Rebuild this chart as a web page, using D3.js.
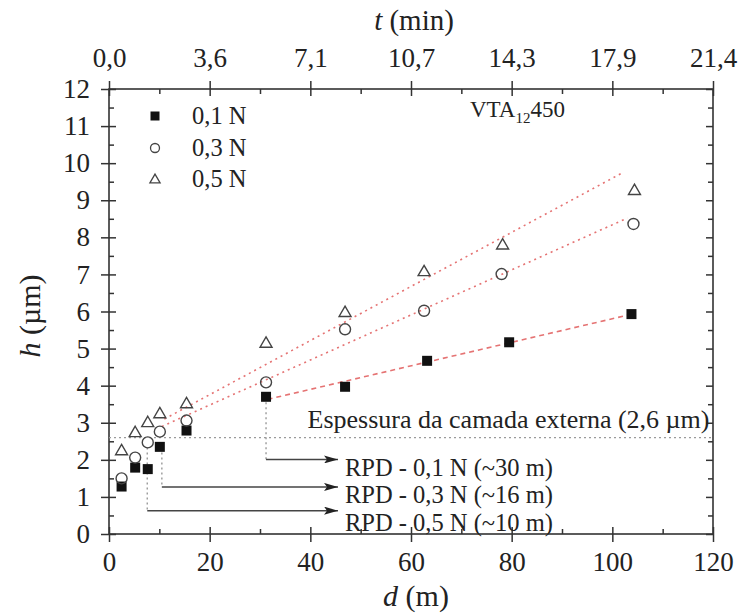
<!DOCTYPE html>
<html>
<head>
<meta charset="utf-8">
<script src="https://cdn.jsdelivr.net/npm/d3@7"></script>
<style>
  html, body { margin: 0; padding: 0; background: #fff; }
  svg { display: block; }
  text { font-family: "Liberation Serif", "Times New Roman", serif; fill: #222; }
</style>
</head>
<body>
<svg id="chart" width="749" height="615"></svg>
<script>
// Wear depth h versus sliding distance d for three normal loads
const seriesNames = ["0,1 N", "0,3 N", "0,5 N"];
const d01 = [2.5, 5.2, 7.7, 10.1, 15.4, 31.2, 46.9, 63.2, 79.5, 103.8];
const h01 = [1.28, 1.79, 1.75, 2.35, 2.79, 3.70, 3.97, 4.67, 5.17, 5.93];
const d03 = [2.5, 5.2, 7.7, 10.1, 15.4, 31.2, 46.9, 62.6, 78.0, 104.2];
const h03 = [1.50, 2.06, 2.47, 2.76, 3.06, 4.09, 5.52, 6.02, 7.01, 8.36];
const d05 = [2.5, 5.2, 7.7, 10.1, 15.4, 31.2, 46.9, 62.6, 78.2, 104.4];
const h05 = [2.27, 2.76, 3.03, 3.27, 3.54, 5.17, 6.00, 7.10, 7.82, 9.29];

// Linear trend segments (start, end)
const fitD01 = [31.5, 103.0], fitH01 = [3.63, 5.90];
const fitD03 = [10.5, 103.0], fitH03 = [2.90, 8.52];
const fitD05 = [11.0, 102.0], fitH05 = [3.10, 9.74];

// Outer layer thickness
const layerH = 2.6;
// Critical distances: vertical drop start (d, h) and arrow level h
const rpdLabels = ["RPD - 0,1 N (~30 m)", "RPD - 0,3 N (~16 m)", "RPD - 0,5 N (~10 m)"];
const rpdD = [31.2, 10.5, 7.6];
const rpdTopH = [3.55, 2.2, 2.33];
const rpdArrowH = [2.01, 1.27, 0.63];
const rpdArrowEndD = [45.5, 45.5, 45.5];

// Axes
const dTicks = [0, 20, 40, 60, 80, 100, 120];
const tLabels = ["0,0", "3,6", "7,1", "10,7", "14,3", "17,9", "21,4"];
const hTicks = [0, 1, 2, 3, 4, 5, 6, 7, 8, 9, 10, 11, 12];

const svg = d3.select("#chart");
const plotLeft = 109, plotRight = 713, plotTop = 89, plotBottom = 534;
const x = d3.scaleLinear().domain([0, 120]).range([plotLeft, plotRight]);
const y = d3.scaleLinear().domain([0, 12]).range([plotBottom, plotTop]);

const axisColor = "#333";
const serif = '"Liberation Serif", "Times New Roman", serif';
const fontSize = 27;

// Minor tick positions
const dMinor = d3.range(10, 120, 20);
const hMinor = d3.range(0.5, 12, 1);

function styleAxis(g) {
  g.select(".domain").remove();
  g.selectAll(".tick line").attr("stroke", axisColor).attr("stroke-width", 1.5);
  g.selectAll(".tick text").attr("font-size", fontSize)
    .attr("font-family", serif).attr("fill", "#222");
}

// Frame
svg.append("rect").attr("x", plotLeft).attr("y", plotTop)
  .attr("width", plotRight - plotLeft).attr("height", plotBottom - plotTop)
  .attr("fill", "none").attr("stroke", axisColor).attr("stroke-width", 1.6);

// Bottom axis (major ticks crossing the frame)
const gB = svg.append("g").attr("transform", `translate(0,${plotBottom})`)
  .call(d3.axisBottom(x).tickValues(dTicks).tickSize(8).tickPadding(10).tickFormat(d3.format("d")));
styleAxis(gB);
gB.selectAll(".tick line").attr("y1", -7);
svg.append("g").attr("transform", `translate(0,${plotBottom})`)
  .call(d3.axisTop(x).tickValues(dMinor).tickSize(5).tickFormat(""))
  .call(styleAxis);

// Top axis with time labels
const gT = svg.append("g").attr("transform", `translate(0,${plotTop})`)
  .call(d3.axisTop(x).tickValues(dTicks).tickSize(8).tickPadding(14).tickFormat((d, i) => tLabels[i]));
styleAxis(gT);
gT.selectAll(".tick line").attr("y1", 7);
svg.append("g").attr("transform", `translate(0,${plotTop})`)
  .call(d3.axisBottom(x).tickValues(dMinor).tickSize(5).tickFormat(""))
  .call(styleAxis);

// Left axis
const gL = svg.append("g").attr("transform", `translate(${plotLeft},0)`)
  .call(d3.axisLeft(y).tickValues(hTicks).tickSize(8).tickPadding(11).tickFormat(d3.format("d")));
styleAxis(gL);
gL.selectAll(".tick line").attr("x1", 7);
svg.append("g").attr("transform", `translate(${plotLeft},0)`)
  .call(d3.axisRight(y).tickValues(hMinor).tickSize(5).tickFormat(""))
  .call(styleAxis);

// Right axis (inward ticks only)
svg.append("g").attr("transform", `translate(${plotRight},0)`)
  .call(d3.axisLeft(y).tickValues(hTicks).tickSize(7).tickFormat(""))
  .call(styleAxis);
svg.append("g").attr("transform", `translate(${plotRight},0)`)
  .call(d3.axisLeft(y).tickValues(hMinor).tickSize(5).tickFormat(""))
  .call(styleAxis);

// Axis titles
const tt = svg.append("text").attr("x", 414).attr("y", 30).attr("text-anchor", "middle").attr("font-size", 29);
tt.append("tspan").attr("font-style", "italic").text("t");
tt.append("tspan").text(" (min)");

const dt = svg.append("text").attr("x", 416).attr("y", 606).attr("text-anchor", "middle").attr("font-size", 30);
dt.append("tspan").attr("font-style", "italic").text("d");
dt.append("tspan").text(" (m)");

const ht = svg.append("text").attr("transform", "translate(40,316) rotate(-90)")
  .attr("text-anchor", "middle").attr("font-size", 30);
ht.append("tspan").attr("font-style", "italic").text("h");
ht.append("tspan").text(" (µm)");

// Outer layer thickness line
svg.append("line")
  .attr("x1", x(0)).attr("x2", x(120)).attr("y1", y(layerH)).attr("y2", y(layerH))
  .attr("stroke", "#9a9a9a").attr("stroke-width", 1.4).attr("stroke-dasharray", "2,3");
svg.append("text").attr("x", x(119.3)).attr("y", y(layerH) - 10)
  .attr("text-anchor", "end").attr("font-size", 26)
  .text("Espessura da camada externa (2,6 µm)");

// Trend lines
const fitColor = "#e57373";
const fits = [
  { d: fitD01, h: fitH01, dash: "5,4" },
  { d: fitD03, h: fitH03, dash: "2,4" },
  { d: fitD05, h: fitH05, dash: "2,4" }
];
const fitLine = d3.line().x(p => x(p[0])).y(p => y(p[1]));
fits.forEach(f => {
  svg.append("path").attr("d", fitLine(d3.zip(f.d, f.h)))
    .attr("fill", "none").attr("stroke", fitColor).attr("stroke-width", 1.6)
    .attr("stroke-dasharray", f.dash);
});

// RPD markers: dotted drop, arrow and label
const defs = svg.append("defs");
defs.append("marker").attr("id", "arrowhead").attr("viewBox", "0 0 14 8")
  .attr("refX", 14).attr("refY", 4).attr("markerWidth", 14).attr("markerHeight", 8)
  .attr("markerUnits", "userSpaceOnUse").attr("orient", "auto")
  .append("path").attr("d", "M0,0 L14,4 L0,8 L3,4 Z").attr("fill", "#222");

const rpdLabelDy = [16.5, 16.5, 20];
rpdD.forEach((d, i) => {
  svg.append("line")
    .attr("x1", x(d)).attr("x2", x(d)).attr("y1", y(rpdTopH[i])).attr("y2", y(rpdArrowH[i]))
    .attr("stroke", "#9a9a9a").attr("stroke-width", 1.4).attr("stroke-dasharray", "2,3");
  svg.append("line")
    .attr("x1", x(d)).attr("x2", x(rpdArrowEndD[i])).attr("y1", y(rpdArrowH[i])).attr("y2", y(rpdArrowH[i]))
    .attr("stroke", "#444").attr("stroke-width", 1.5).attr("marker-end", "url(#arrowhead)");
  svg.append("text").attr("x", x(rpdArrowEndD[i]) + 7).attr("y", y(rpdArrowH[i]) + rpdLabelDy[i])
    .attr("font-size", 24.5).text(rpdLabels[i]);
});

// Data markers
const sq = 10, cr = 5.5;
const triPath = d3.symbol().type(d3.symbolTriangle).size(62);

d3.zip(d01, h01).forEach(p => {
  svg.append("rect").attr("x", x(p[0]) - sq / 2).attr("y", y(p[1]) - sq / 2)
    .attr("width", sq).attr("height", sq).attr("fill", "#111");
});
d3.zip(d03, h03).forEach(p => {
  svg.append("circle").attr("cx", x(p[0])).attr("cy", y(p[1])).attr("r", cr)
    .attr("fill", "none").attr("stroke", "#444").attr("stroke-width", 1.4);
});
d3.zip(d05, h05).forEach(p => {
  svg.append("path").attr("d", triPath).attr("transform", `translate(${x(p[0])},${y(p[1]) + 1.5})`)
    .attr("fill", "none").attr("stroke", "#444").attr("stroke-width", 1.4);
});

// Legend
const legY = [116, 148, 179];
const legX = 155;
svg.append("rect").attr("x", legX - 4.5).attr("y", legY[0] - 4.5).attr("width", 9).attr("height", 9).attr("fill", "#111");
svg.append("circle").attr("cx", legX).attr("cy", legY[1]).attr("r", 4.5)
  .attr("fill", "none").attr("stroke", "#444").attr("stroke-width", 1.3);
svg.append("path").attr("d", d3.symbol().type(d3.symbolTriangle).size(45))
  .attr("transform", `translate(${legX},${legY[2] + 1})`)
  .attr("fill", "none").attr("stroke", "#444").attr("stroke-width", 1.3);
seriesNames.forEach((n, i) => {
  svg.append("text").attr("x", 192).attr("y", legY[i] + 8).attr("font-size", 24.5).text(n);
});

// Sample label with subscript
const vt = svg.append("text").attr("x", 470).attr("y", 117).attr("font-size", 23);
vt.append("tspan").text("VTA");
vt.append("tspan").attr("font-size", 15).attr("dy", 6).text("12");
vt.append("tspan").attr("dy", -6).text("450");
</script>
</body>
</html>
